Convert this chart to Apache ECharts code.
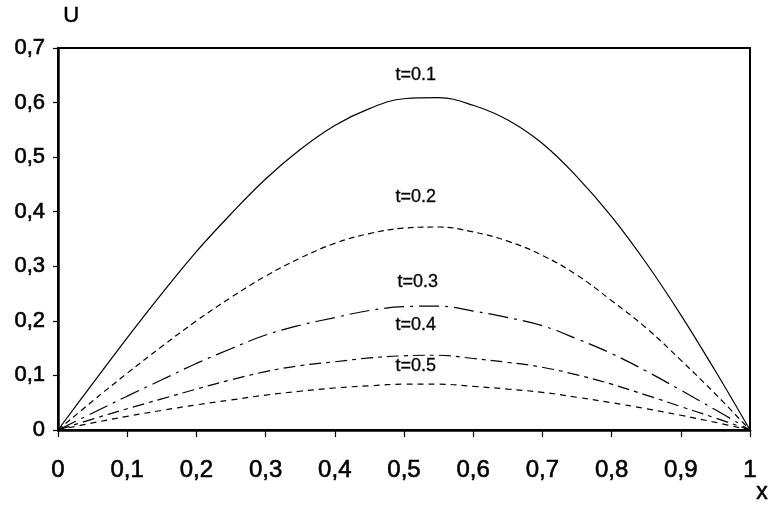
<!DOCTYPE html>
<html>
<head>
<meta charset="utf-8">
<script src="https://cdn.jsdelivr.net/npm/echarts@6/dist/echarts.min.js"></script>
<style>
  html, body { margin: 0; padding: 0; background: #fff; }
  #chart { width: 770px; height: 513px; }
</style>
</head>
<body>
<div id="chart"></div>
<script>
// Profiles U(x) at successive times t
const xs = [0, 0.05, 0.1, 0.15, 0.2, 0.25, 0.3, 0.35, 0.4, 0.45, 0.5,
            0.55, 0.6, 0.65, 0.7, 0.75, 0.8, 0.85, 0.9, 0.95, 1];

const u01 = [0, 0.085, 0.169, 0.250, 0.327, 0.396, 0.460, 0.514, 0.558, 0.589, 0.607,
             0.609, 0.595, 0.568, 0.525, 0.464, 0.391, 0.306, 0.211, 0.108, 0];
const u02 = [0, 0.053, 0.104, 0.153, 0.200, 0.243, 0.282, 0.315, 0.342, 0.360, 0.370,
             0.372, 0.363, 0.346, 0.320, 0.284, 0.237, 0.187, 0.128, 0.066, 0];
const u03 = [0, 0.031, 0.062, 0.092, 0.122, 0.149, 0.174, 0.192, 0.206, 0.219, 0.226,
             0.227, 0.218, 0.206, 0.191, 0.167, 0.140, 0.108, 0.073, 0.037, 0];
const u04 = [0, 0.020, 0.039, 0.057, 0.075, 0.092, 0.107, 0.118, 0.125, 0.132, 0.136,
             0.137, 0.131, 0.124, 0.115, 0.101, 0.084, 0.064, 0.043, 0.022, 0];
const u05 = [0, 0.013, 0.025, 0.036, 0.046, 0.055, 0.064, 0.071, 0.077, 0.081, 0.084,
             0.084, 0.080, 0.075, 0.069, 0.060, 0.050, 0.039, 0.027, 0.014, 0];

const seriesNames = ['t=0.1', 't=0.2', 't=0.3', 't=0.4', 't=0.5'];
// where each curve's caption sits, in data units [x, U]
const captionX = [0.517, 0.517, 0.52, 0.517, 0.517];
const captionU = [0.650, 0.427, 0.271, 0.192, 0.117];

const xTickLabels = ['0', '0,1', '0,2', '0,3', '0,4', '0,5', '0,6', '0,7', '0,8', '0,9', '1'];
const yTickLabels = ['0', '0,1', '0,2', '0,3', '0,4', '0,5', '0,6', '0,7'];

const profiles = [u01, u02, u03, u04, u05];
const dashes = ['solid', [6, 4], [20, 6, 3, 6], [12, 5, 4, 5], [6, 5]];

const font = 'Liberation Sans, Arial, sans-serif';

const chart = echarts.init(document.getElementById('chart'), null, { renderer: 'canvas' });

chart.setOption({
  animation: false,
  backgroundColor: '#fff',
  grid: {
    left: 58, right: 20, top: 48, bottom: 83,
    show: true, borderColor: '#000', borderWidth: 2, backgroundColor: 'transparent'
  },
  xAxis: {
    type: 'value', min: 0, max: 1, interval: 0.1,
    axisLine: { show: true, lineStyle: { color: '#000', width: 2.5 } },
    axisTick: { show: true, length: 7, inside: false, lineStyle: { color: '#000', width: 1.2 } },
    splitLine: { show: false },
    axisLabel: {
      color: '#000', fontFamily: font, fontSize: 24, margin: 28,
      textBorderColor: '#000', textBorderWidth: 0.6,
      formatter: (v) => xTickLabels[Math.round(v * 10)]
    }
  },
  yAxis: {
    type: 'value', min: 0, max: 0.7, interval: 0.1,
    axisLine: { show: true, lineStyle: { color: '#000', width: 2.5 } },
    axisTick: { show: true, length: 5, inside: false, lineStyle: { color: '#000', width: 1.2 } },
    splitLine: { show: false },
    axisLabel: {
      color: '#000', fontFamily: font, fontSize: 22, margin: 13,
      textBorderColor: '#000', textBorderWidth: 0.6,
      formatter: (v) => yTickLabels[Math.round(v * 10)]
    }
  },
  graphic: [
    { type: 'text', left: 63, top: 5,
      style: { text: 'U', fill: '#000', font: '22px ' + font, stroke: '#000', lineWidth: 0.5 } },
    { type: 'text', left: 756, top: 481,
      style: { text: 'x', fill: '#000', font: '23px ' + font, stroke: '#000', lineWidth: 0.5 } }
  ],
  series: profiles.map((u, i) => ({
    name: seriesNames[i],
    type: 'line',
    data: xs.map((x, k) => [x, u[k]]),
    smooth: 0.4,
    showSymbol: false,
    symbol: 'none',
    lineStyle: { color: '#000', width: 1.2, type: dashes[i] },
    markPoint: {
      symbol: 'circle', symbolSize: 0,
      data: [{ coord: [captionX[i], captionU[i]] }],
      label: {
        show: true, position: 'inside', formatter: seriesNames[i],
        color: '#000', fontFamily: font, fontSize: 18, letterSpacing: -0.5,
        textBorderColor: '#000', textBorderWidth: 0.3
      }
    }
  }))
});
</script>
</body>
</html>
